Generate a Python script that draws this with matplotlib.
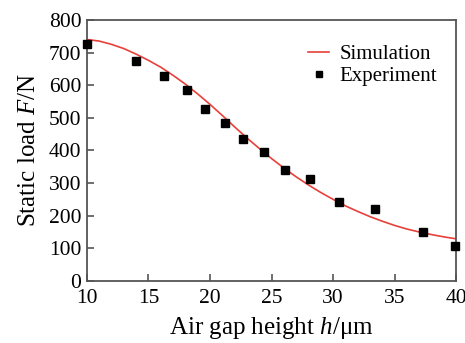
import matplotlib
matplotlib.use("Agg")
import matplotlib.pyplot as plt

# Simulation curve
sim_h = [10, 11, 12, 13, 14, 15, 16, 17, 18, 19, 20, 21, 22, 23, 24, 25,
         26, 27, 28, 29, 30, 31, 32, 33, 34, 35, 36, 37, 38, 39, 40]
sim_f = [740, 735, 725, 712, 695, 676, 655, 630, 603, 573, 541, 507, 472, 438, 406, 375,
         346, 319, 294, 271, 250, 230, 213, 197, 183, 170, 159, 150, 142, 135, 129]

# Experiment points
exp_h = [10.0, 14.0, 16.3, 18.1, 19.6, 21.2, 22.7, 24.4, 26.1, 28.1, 30.5, 33.4, 37.3, 39.9]
exp_f = [725, 674, 628, 584, 528, 485, 434, 395, 339, 312, 243, 219, 151, 108]

x_ticks = [10, 15, 20, 25, 30, 35, 40]
y_ticks = [0, 100, 200, 300, 400, 500, 600, 700, 800]

plt.rcParams['font.family'] = ['Liberation Serif', 'DejaVu Serif']
plt.rcParams['mathtext.fontset'] = 'custom'
plt.rcParams['mathtext.rm'] = 'Liberation Serif'
plt.rcParams['mathtext.it'] = 'Liberation Serif:italic'

fig = plt.figure(figsize=(4.65, 3.43), dpi=100)
ax = fig.add_axes([0.187, 0.181, 0.794, 0.761])

ax.plot(sim_h, sim_f, color='#e8403a', lw=1.2, label='Simulation')
ax.plot(exp_h, exp_f, ls='none', marker='s', ms=5.5, color='black', label='Experiment',
        clip_on=False, zorder=5)

ax.set_xlim(10, 40)
ax.set_ylim(0, 800)
ax.set_xticks(x_ticks)
ax.set_yticks(y_ticks)
ax.tick_params(direction='in', length=5, width=1.2, color='#555555', labelsize=15.5)
ax.tick_params(axis='x', pad=6)
ax.tick_params(axis='y', pad=4)
for s in ax.spines.values():
    s.set_color('#555555')
    s.set_linewidth(1.3)

ax.set_xlabel(r'Air gap height $\it{h}$/μm', fontsize=18, labelpad=5)
ax.set_ylabel(r'Static load $\it{F}$/N', fontsize=18, labelpad=6)

ax.legend(loc='upper right', bbox_to_anchor=(0.948, 0.905), frameon=False, fontsize=15,
          handlelength=1.0, handletextpad=0.5, labelspacing=0.12, borderpad=0,
          borderaxespad=0, markerscale=0.8)

fig.savefig('out.png', dpi=100)
